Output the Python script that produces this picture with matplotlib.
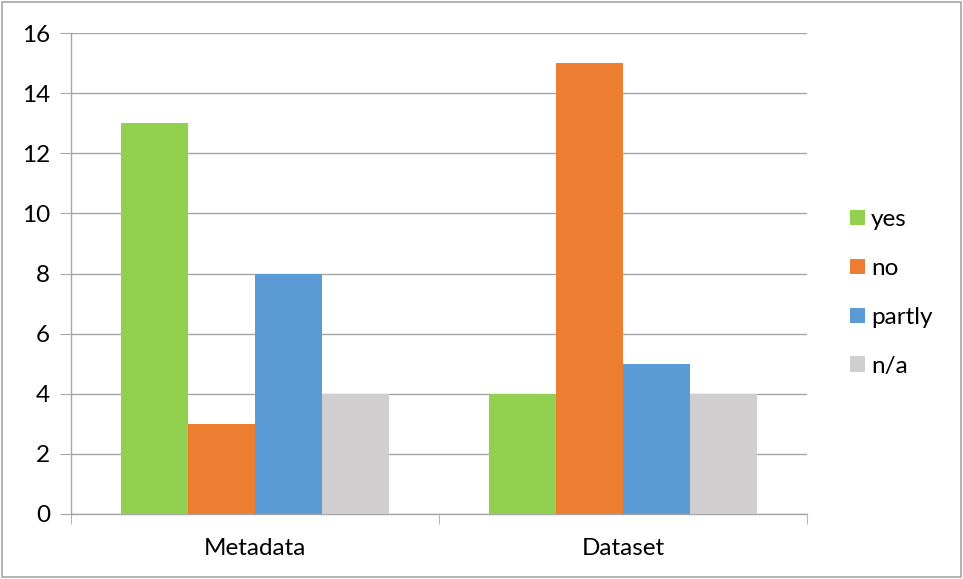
import matplotlib
matplotlib.use("Agg")
import matplotlib.pyplot as plt
import numpy as np
from matplotlib.patches import Patch, Rectangle

categories = ["Metadata", "Dataset"]
series_names = ["yes", "no", "partly", "n/a"]
yes = [13, 4]
no = [3, 15]
partly = [8, 5]
na = [4, 4]
colors = ["#92d050", "#ed7d31", "#5b9bd5", "#d0cece"]
yticks = [0, 2, 4, 6, 8, 10, 12, 14, 16]

plt.rcParams['font.family'] = ['Lato', 'DejaVu Sans']
FS = 17.5

fig = plt.figure(figsize=(9.63, 5.79), dpi=100)
ax = fig.add_axes([71/963, 1-514/579, (807-71)/963, (514-33)/579])

values = [yes, no, partly, na]
x = np.arange(len(categories))
w = 67/368
for i, (vals, c) in enumerate(zip(values, colors)):
    ax.bar(x + (i - 1.5) * w, vals, width=w, color=c, zorder=3, label=series_names[i])

ax.set_xlim(-0.5, 1.5)
ax.set_ylim(0, 16)
ax.set_yticks(yticks)
ax.tick_params(axis='y', labelsize=FS, length=8, color='#a6a6a6', pad=7)
ax.yaxis.grid(True, color='#a6a6a6', linewidth=1, zorder=0)
ax.set_xticks(x)
ax.set_xticklabels(categories, fontsize=FS)
ax.tick_params(axis='x', length=0, pad=17)
ax.set_xticks([-0.5, 0.5, 1.5], minor=True)
ax.tick_params(axis='x', which='minor', length=7, color='#a6a6a6')
for s in ['top', 'right']:
    ax.spines[s].set_visible(False)
for s in ['left', 'bottom']:
    ax.spines[s].set_color('#a6a6a6')
    ax.spines[s].set_linewidth(1)

handles = [Patch(facecolor=c, edgecolor='none') for c in colors]
fig.legend(handles, series_names, loc='center left', bbox_to_anchor=(850/963, 1-293/579),
           frameon=False, fontsize=FS, handlelength=0.62, handleheight=0.62,
           handletextpad=0.25, labelspacing=1.15, borderpad=0, borderaxespad=0)

fig.patches.append(Rectangle((0.002, 0.003), 0.996, 0.994, transform=fig.transFigure,
                             fill=False, edgecolor='#a6a6a6', linewidth=1.2))

fig.savefig("out.png", dpi=100)
